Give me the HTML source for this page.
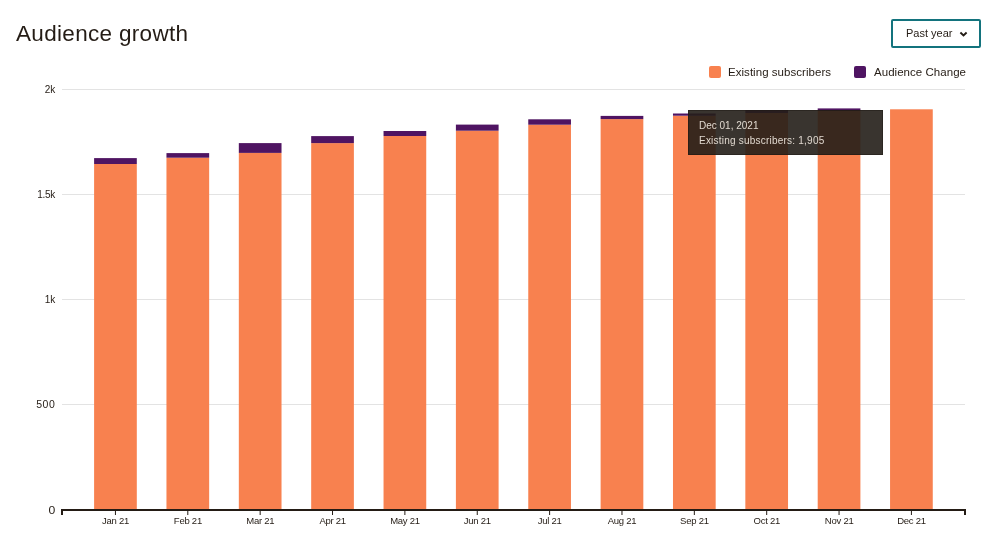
<!DOCTYPE html>
<html><head><meta charset="utf-8">
<style>
html,body{margin:0;padding:0;background:#fff;}
.t,svg{will-change:transform;}
body{width:1000px;height:542px;overflow:hidden;position:relative;font-family:"Liberation Sans",sans-serif;color:#241c15;}
.t{position:absolute;white-space:nowrap;line-height:1;}
.title{left:16.2px;top:23.2px;font-size:22.5px;letter-spacing:0.32px;}
.btn{position:absolute;left:891px;top:19px;width:86px;height:25px;border:2px solid #13737d;border-radius:2px;box-sizing:content-box;}
.sw{position:absolute;width:12px;height:12px;border-radius:2px;}
svg.chart{position:absolute;left:0;top:0;}
.tip{position:absolute;left:688px;top:109.5px;width:195px;height:45.5px;background:rgba(36,30,24,0.9);box-shadow:inset 0 0 0 1px rgba(20,15,10,0.35);}
.tip .t{color:#e0d8cf;}
</style></head><body>
<div class="t title">Audience growth</div>
<div class="btn"></div>
<div class="t" style="left:905.5px;top:27.8px;font-size:11px;">Past year</div>
<svg style="position:absolute;left:959px;top:31px" width="9" height="7" viewBox="0 0 9 7"><path d="M1.4 1.5 L4.5 4.4 L7.6 1.5" fill="none" stroke="#241c15" stroke-width="1.9"/></svg>
<div class="sw" style="left:709px;top:66px;background:#f8814f"></div>
<div class="t" style="left:728.2px;top:66.8px;font-size:11.5px;letter-spacing:0.04px;">Existing subscribers</div>
<div class="sw" style="left:854px;top:66px;background:#4f1462"></div>
<div class="t" style="left:874.2px;top:66.8px;font-size:11.5px;letter-spacing:0.04px;">Audience Change</div>
<svg class="chart" width="1000" height="542" viewBox="0 0 1000 542">
<g stroke="#e3e3e3" stroke-width="1"><line x1="62" y1="89.50" x2="965" y2="89.50"/><line x1="62" y1="194.50" x2="965" y2="194.50"/><line x1="62" y1="299.50" x2="965" y2="299.50"/><line x1="62" y1="404.50" x2="965" y2="404.50"/></g>
<g font-family="Liberation Sans" fill="#241c15" text-anchor="end"><text x="55.2" y="93.40" font-size="10" letter-spacing="0">2k</text><text x="55.0" y="198.40" font-size="10" letter-spacing="-0.3">1.5k</text><text x="55.2" y="303.40" font-size="10" letter-spacing="0">1k</text><text x="55.5" y="408.40" font-size="10.5" letter-spacing="0.6">500</text><text transform="translate(55.2,513.80) scale(1.22,1)" font-size="10">0</text></g>
<g><rect x="94.10" y="164.00" width="42.7" height="346.00" fill="#f8814f"/><rect x="94.10" y="158.10" width="42.7" height="5.90" fill="#4f1462"/><rect x="166.46" y="157.70" width="42.7" height="352.30" fill="#f8814f"/><rect x="166.46" y="153.10" width="42.7" height="4.60" fill="#4f1462"/><rect x="238.82" y="152.90" width="42.7" height="357.10" fill="#f8814f"/><rect x="238.82" y="143.10" width="42.7" height="9.80" fill="#4f1462"/><rect x="311.18" y="143.10" width="42.7" height="366.90" fill="#f8814f"/><rect x="311.18" y="136.10" width="42.7" height="7.00" fill="#4f1462"/><rect x="383.54" y="136.00" width="42.7" height="374.00" fill="#f8814f"/><rect x="383.54" y="131.00" width="42.7" height="5.00" fill="#4f1462"/><rect x="455.90" y="130.70" width="42.7" height="379.30" fill="#f8814f"/><rect x="455.90" y="124.60" width="42.7" height="6.10" fill="#4f1462"/><rect x="528.26" y="124.70" width="42.7" height="385.30" fill="#f8814f"/><rect x="528.26" y="119.30" width="42.7" height="5.40" fill="#4f1462"/><rect x="600.62" y="119.10" width="42.7" height="390.90" fill="#f8814f"/><rect x="600.62" y="115.90" width="42.7" height="3.20" fill="#4f1462"/><rect x="672.98" y="115.70" width="42.7" height="394.30" fill="#f8814f"/><rect x="672.98" y="113.50" width="42.7" height="2.20" fill="#4f1462"/><rect x="745.34" y="113.00" width="42.7" height="397.00" fill="#f8814f"/><rect x="745.34" y="110.20" width="42.7" height="2.80" fill="#4f1462"/><rect x="817.70" y="110.60" width="42.7" height="399.40" fill="#f8814f"/><rect x="817.70" y="108.40" width="42.7" height="2.20" fill="#4f1462"/><rect x="890.06" y="109.30" width="42.7" height="400.70" fill="#f8814f"/></g>
<path d="M62 515 V510 H965 V515" fill="none" stroke="#241c15" stroke-width="2"/>
<g stroke="#241c15" stroke-width="1"><line x1="115.45" y1="510" x2="115.45" y2="515" /><line x1="187.81" y1="510" x2="187.81" y2="515" /><line x1="260.17" y1="510" x2="260.17" y2="515" /><line x1="332.53" y1="510" x2="332.53" y2="515" /><line x1="404.89" y1="510" x2="404.89" y2="515" /><line x1="477.25" y1="510" x2="477.25" y2="515" /><line x1="549.61" y1="510" x2="549.61" y2="515" /><line x1="621.97" y1="510" x2="621.97" y2="515" /><line x1="694.33" y1="510" x2="694.33" y2="515" /><line x1="766.69" y1="510" x2="766.69" y2="515" /><line x1="839.05" y1="510" x2="839.05" y2="515" /><line x1="911.41" y1="510" x2="911.41" y2="515" /></g>
<g font-family="Liberation Sans" font-size="9.5" letter-spacing="-0.25" fill="#241c15" text-anchor="middle"><text x="115.55" y="523.8">Jan 21</text><text x="187.91" y="523.8">Feb 21</text><text x="260.27" y="523.8">Mar 21</text><text x="332.63" y="523.8">Apr 21</text><text x="404.99" y="523.8">May 21</text><text x="477.35" y="523.8">Jun 21</text><text x="549.71" y="523.8">Jul 21</text><text x="622.07" y="523.8">Aug 21</text><text x="694.43" y="523.8">Sep 21</text><text x="766.79" y="523.8">Oct 21</text><text x="839.15" y="523.8">Nov 21</text><text x="911.51" y="523.8">Dec 21</text></g>
</svg>
<div class="tip">
<div class="t" style="left:10.8px;top:11px;font-size:10px;">Dec 01, 2021</div>
<div class="t" style="left:10.8px;top:26.3px;font-size:10px;letter-spacing:0.22px;">Existing subscribers: 1,905</div>
</div>
</body></html>
